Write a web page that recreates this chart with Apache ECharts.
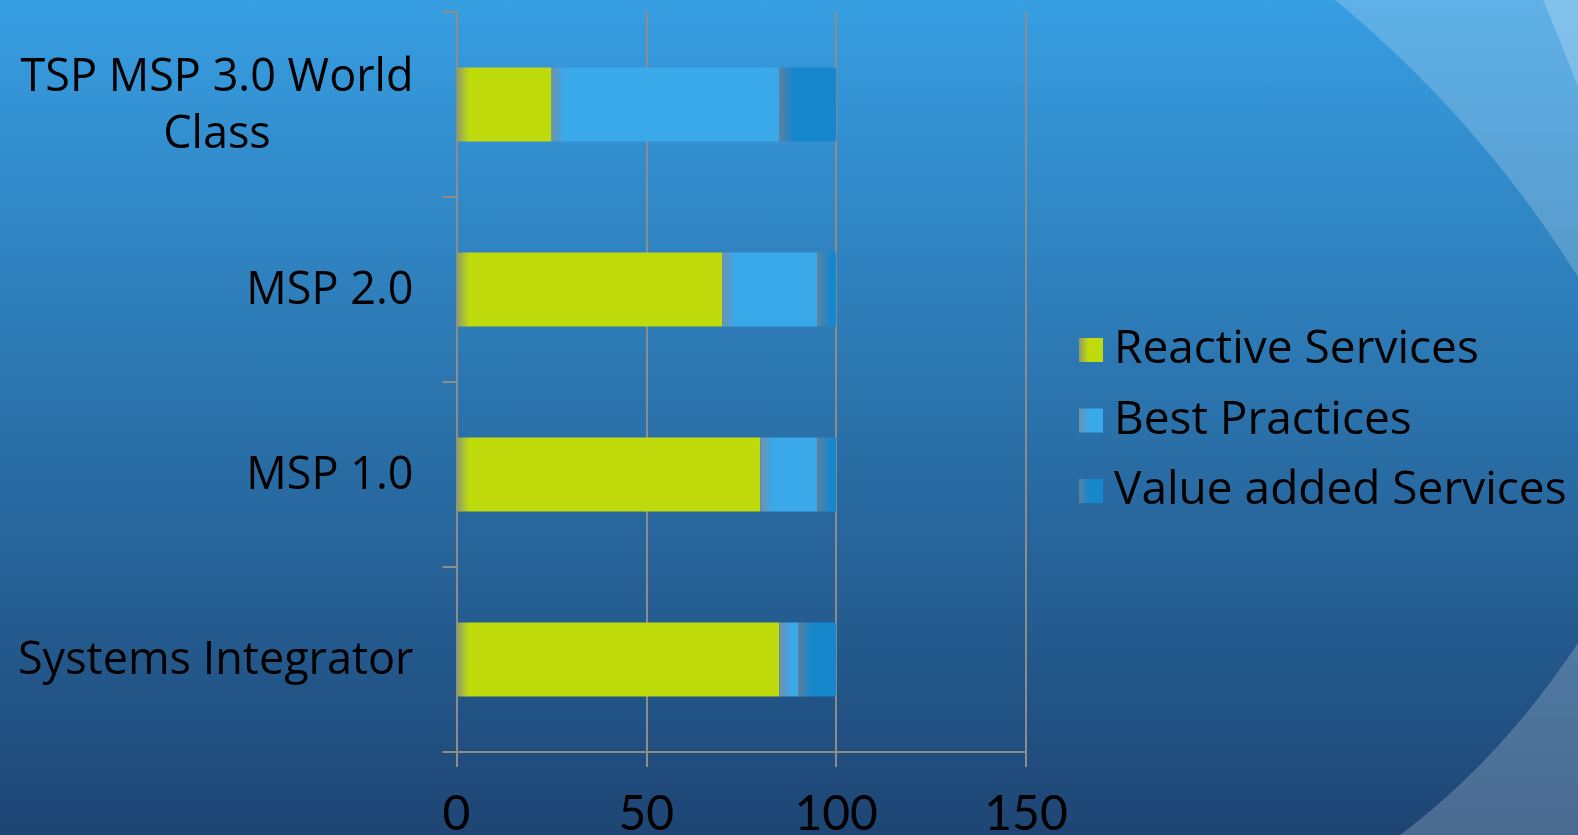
<!DOCTYPE html>
<html>
<head>
<meta charset="utf-8">
<script src="https://cdn.jsdelivr.net/npm/echarts@6/dist/echarts.min.js"></script>
<style>
html,body{margin:0;padding:0;width:1578px;height:835px;overflow:hidden;
background:linear-gradient(to bottom,#379ee2 0%,#1e4574 100%);}
#chart{width:1578px;height:835px;}
</style>
</head>
<body>
<div id="chart"></div>
<script>
// ---- data ----
const categories = ['Systems Integrator', 'MSP 1.0', 'MSP 2.0', 'TSP MSP 3.0 World\nClass'];
const seriesNames = ['Reactive Services', 'Best Practices', 'Value added Services'];
const reactive = [85, 80, 70, 25];
const bestPractices = [5, 15, 25, 60];
const valueAdded = [10, 5, 5, 15];
const xTicks = [0, 50, 100, 150];

// ---- style ----
const FONT = 'Open Sans';
const NUMFONT = 'Lato';
const baseColors = ['#bfdb0b', '#39a9ea', '#1787cc'];
const edgeColors = ['#8d9a6e', '#6f91ad', '#5e819c'];
const gridLeft = 456.5, gridRight = 552;
const pxPerUnit = (1578 - gridLeft - gridRight) / 150;

function grad(i, stop) {
  return {
    type: 'linear', x: 0, y: 0, x2: 1, y2: 0,
    colorStops: [
      { offset: 0, color: edgeColors[i] },
      { offset: stop, color: baseColors[i] },
      { offset: 1, color: baseColors[i] }
    ]
  };
}
function items(values, i) {
  return values.map(v => ({
    value: v,
    itemStyle: { color: grad(i, Math.min(0.9, 13 / Math.max(1, v * pxPerUnit))) }
  }));
}
const allValues = [reactive, bestPractices, valueAdded];

// decorative background swoosh (quadratic curve outline + closing corner)
function swoosh(p0, c, p1, extra) {
  const pts = [];
  for (let k = 0; k <= 40; k++) {
    const t = k / 40, u = 1 - t;
    pts.push([u*u*p0[0] + 2*u*t*c[0] + t*t*p1[0], u*u*p0[1] + 2*u*t*c[1] + t*t*p1[1]]);
  }
  return pts.concat(extra);
}

const chart = echarts.init(document.getElementById('chart'), null, { renderer: 'canvas' });
const axisGray = '#8c8c8c';

chart.setOption({
  backgroundColor: 'transparent',
  animation: false,
  textStyle: { fontFamily: FONT },
  graphic: [
    { type: 'polygon', z: -10, shape: { points: swoosh([1335,0],[1480,120],[1578,277],[[1578,0]]) },
      style: { fill: 'rgba(255,255,255,0.2)' } },
    { type: 'polygon', z: -9, shape: { points: swoosh([1543,0],[1561,42],[1578,87],[[1578,0]]) },
      style: { fill: 'rgba(255,255,255,0.22)' } },
    { type: 'polygon', z: -10, shape: { points: swoosh([1578,643],[1500,760],[1400,835],[[1578,835]]) },
      style: { fill: 'rgba(255,255,255,0.2)' } }
  ],
  grid: { left: gridLeft, right: gridRight, top: 12, bottom: 83, containLabel: false, outerBoundsMode: 'none' },
  legend: {
    orient: 'vertical',
    left: 1074,
    top: 320,
    itemWidth: 24,
    itemHeight: 24,
    itemGap: 20.5,
    icon: 'rect',
    data: seriesNames,
    textStyle: { fontFamily: FONT, fontSize: 46, color: '#000', lineHeight: 50, padding: [0, 0, 0, 6] }
  },
  xAxis: {
    type: 'value',
    min: xTicks[0],
    max: xTicks[xTicks.length - 1],
    interval: xTicks[1] - xTicks[0],
    axisLine: { show: true, lineStyle: { color: axisGray, width: 2 } },
    axisTick: { show: true, length: 15, lineStyle: { color: axisGray, width: 2 } },
    splitLine: { show: true, lineStyle: { color: axisGray, width: 2 } },
    axisLabel: { fontFamily: NUMFONT, fontSize: 48, color: '#000', margin: 39 }
  },
  yAxis: {
    type: 'category',
    data: categories,
    axisLine: { show: true, lineStyle: { color: axisGray, width: 2 } },
    axisTick: { show: true, length: 14, lineStyle: { color: axisGray, width: 2 } },
    splitLine: { show: false },
    axisLabel: {
      margin: 43,
      formatter: v => v.split('\n').map(l => '{c|' + l + '}').join('\n'),
      rich: { c: { align: 'center', fontFamily: FONT, fontSize: 45, lineHeight: 57, color: '#000', padding: [4, 0, 0, 0] } }
    }
  },
  series: seriesNames.map((name, i) => ({
    name: name,
    type: 'bar',
    stack: 'total',
    barCategoryGap: '60%',
    itemStyle: { color: grad(i, 0.38) },
    data: items(allValues[i], i)
  }))
});
</script>
</body>
</html>
